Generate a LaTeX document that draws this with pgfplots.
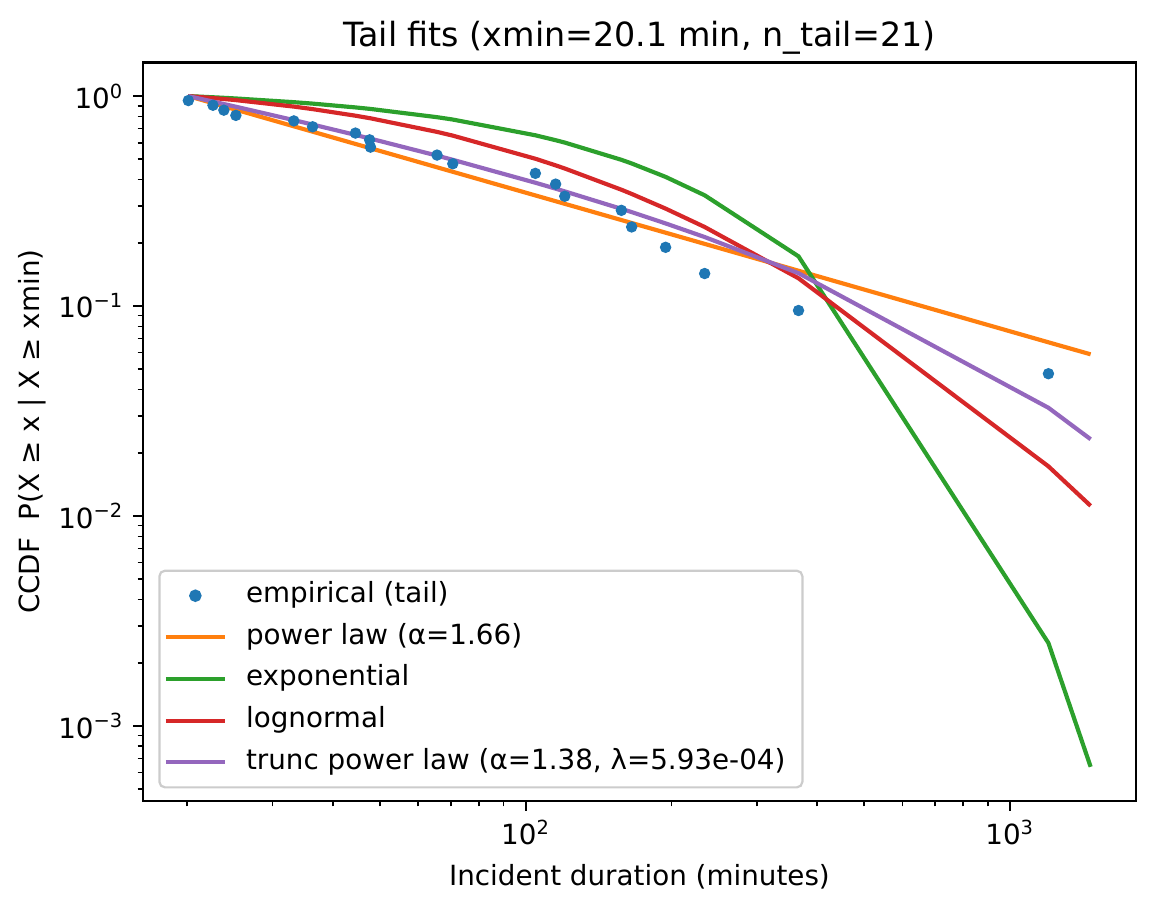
\documentclass[border=0pt]{standalone}
\usepackage{fontspec}
\setmainfont{DejaVu Sans}
\usepackage{pgfplots}
\pgfplotsset{compat=1.18}
\definecolor{c0}{HTML}{1F77B4}
\definecolor{c1}{HTML}{FF7F0E}
\definecolor{c2}{HTML}{2CA02C}
\definecolor{c3}{HTML}{D62728}
\definecolor{c4}{HTML}{9467BD}
\pgfplotsset{
  linelegend/.style={legend image code/.code={\draw[##1] (0pt,0pt) -- (21.2pt,0pt);}},
  marklegend/.style={legend image code/.code={\path (0pt,0pt) -- (21.2pt,0pt); \draw[##1] plot coordinates {(10.6pt,0pt)};}},
}
\begin{document}
\begin{tikzpicture}
\path[use as bounding box] (-51.55pt,-39.31pt) rectangle (364.25pt,288.29pt);
\begin{axis}[
  xmode=log, ymode=log,
  scale only axis, width=357.3pt, height=265.8pt,
  xmin=16.22, xmax=1819, ymin=4.4e-4, ymax=1.446,
  xtick={100,1000}, xticklabels={10\textsuperscript{2},10\textsuperscript{3}},
  ytick={0.001,0.01,0.1,1},
  yticklabels={10\textsuperscript{−3},10\textsuperscript{−2},10\textsuperscript{−1},10\textsuperscript{0}},
  minor xtick={20,30,40,50,60,70,80,90,200,300,400,500,600,700,800,900},
  minor ytick={5e-4,6e-4,7e-4,8e-4,9e-4,2e-3,3e-3,4e-3,5e-3,6e-3,7e-3,8e-3,9e-3,0.02,0.03,0.04,0.05,0.06,0.07,0.08,0.09,0.2,0.3,0.4,0.5,0.6,0.7,0.8,0.9},
  tick align=outside, xtick pos=left, ytick pos=left,
  major tick length=3.5pt, minor tick length=2pt,
  every major tick/.append style={line width=0.8pt, black},
  every minor tick/.append style={line width=0.6pt, black},
  axis line style={line width=0.8pt},
  tick label style={font=\fontsize{10}{12}\selectfont},
  label style={font=\fontsize{10}{12}\selectfont},
  title style={font=\fontsize{12}{14}\selectfont, at={(0.5,1)}, anchor=base, inner sep=0pt, yshift=-0.2pt},
  title={Tail fits (xmin=20.1 min, n\_tail=21)},
  xlabel={Incident duration (minutes)},
  ylabel={CCDF\ \ P(X ≥ x | X ≥ xmin)},
  ylabel style={at={(axis description cs:-0.1118,0.5)}, anchor=center},
  legend cell align=left,
  legend style={at={(0.0152,0.0167)}, anchor=south west,
    draw=black!20, line width=0.8pt, rounded corners=2pt, fill=white,
    font=\fontsize{10}{12}\selectfont,
    inner xsep=1.6pt, inner ysep=4pt, row sep=5pt,
    nodes={inner sep=0pt, text height=7.5pt, text depth=2.5pt},
    /tikz/every odd column/.append style={column sep=6.9pt}},
]
\addplot[only marks, mark=*, mark size=1.85pt, color=c0, draw=none, marklegend]
coordinates {(20.1,0.95238) (22.6,0.90476) (23.8,0.85714) (25.2,0.80952) (33.2,0.76190) (36.3,0.71429) (44.5,0.66667) (47.6,0.61905) (47.8,0.57143) (65.6,0.52381) (70.7,0.47619) (104.7,0.42857) (115.3,0.38095) (120.4,0.33333) (157.6,0.28571) (165.5,0.23810) (194.5,0.19048) (234.2,0.14286) (366,0.09524) (1201,0.04762)};
\addlegendentry{empirical (tail)}
\addplot[c1, line width=1.5pt, no marks, linelegend]
coordinates {(20.1,1) (22.6,0.9255) (23.8,0.8945) (25.2,0.8614) (33.2,0.7181) (36.3,0.6770) (44.5,0.5918) (47.6,0.5661) (47.8,0.5646) (65.6,0.4581) (70.7,0.4360) (104.7,0.3365) (115.3,0.3157) (120.4,0.3069) (157.6,0.2569) (165.5,0.2487) (194.5,0.2236) (234.2,0.1978) (366,0.1473) (1201,0.0672) (1468,0.0589)};
\addlegendentry{power law (α=1.66)}
\addplot[c2, line width=1.5pt, no marks, linelegend]
coordinates {(20.1,1) (22.6,0.9874) (23.8,0.9814) (25.2,0.9744) (33.2,0.9356) (36.3,0.9210) (44.5,0.8834) (47.6,0.8696) (47.8,0.8687) (65.6,0.7937) (70.7,0.7734) (104.7,0.6507) (115.3,0.6166) (120.4,0.6008) (157.6,0.4973) (165.5,0.4778) (194.5,0.4123) (234.2,0.3370) (366,0.1725) (1201,0.002483) (1468,0.000639)};
\addlegendentry{exponential}
\addplot[c3, line width=1.5pt, no marks, linelegend]
coordinates {(20.1,1) (22.6,0.9788) (23.8,0.9686) (25.2,0.9569) (33.2,0.8914) (36.3,0.8671) (44.5,0.8067) (47.6,0.7853) (47.8,0.7840) (65.6,0.6754) (70.7,0.6483) (104.7,0.5031) (115.3,0.4678) (120.4,0.4521) (157.6,0.3582) (165.5,0.3421) (194.5,0.2912) (234.2,0.2380) (366,0.1356) (1201,0.01724) (1468,0.01118)};
\addlegendentry{lognormal}
\addplot[c4, line width=1.5pt, no marks, linelegend]
coordinates {(20.1,1) (22.6,0.9418) (23.8,0.9169) (25.2,0.8900) (33.2,0.7686) (36.3,0.7321) (44.5,0.6534) (47.6,0.6288) (47.8,0.6273) (65.6,0.5206) (70.7,0.4973) (104.7,0.3868) (115.3,0.3624) (120.4,0.3518) (157.6,0.2904) (165.5,0.2803) (194.5,0.2475) (234.2,0.2132) (366,0.1434) (1201,0.03277) (1468,0.02321)};
\addlegendentry{trunc power law (α=1.38, λ=5.93e-04)\rule{4.5pt}{0pt}}
\end{axis}
\end{tikzpicture}
\end{document}
